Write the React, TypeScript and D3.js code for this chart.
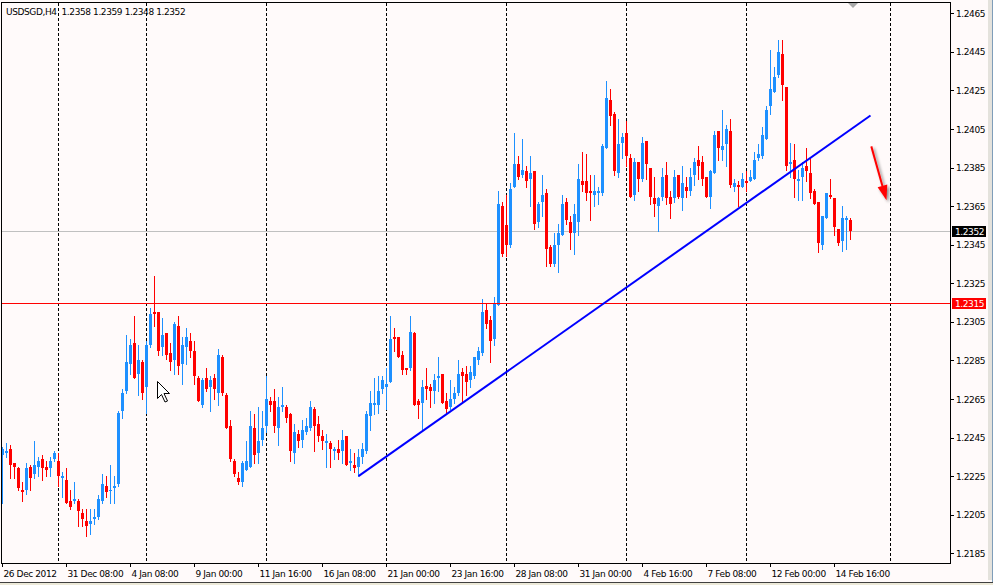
import * as d3 from "d3";

const symbol = "USDSGD";
const period = "H4";

// H4 bars as [open, high, low, close], one list per trading week
const dec26 = [
  [1.2236, 1.224, 1.2211, 1.2239], [1.2237, 1.2242, 1.2235, 1.2238], [1.2239, 1.2241, 1.2224, 1.2231],
  [1.2232, 1.2232, 1.2224, 1.223], [1.2229, 1.223, 1.2218, 1.2219], [1.2218, 1.2222, 1.2212, 1.2217],
  [1.2218, 1.2232, 1.2216, 1.2229], [1.223, 1.2231, 1.2218, 1.2224], [1.2226, 1.2243, 1.2224, 1.2231],
  [1.223, 1.2235, 1.2225, 1.2233], [1.2234, 1.2236, 1.2223, 1.2229], [1.223, 1.2233, 1.2225, 1.2228],
  [1.2229, 1.2235, 1.2225, 1.2233], [1.2234, 1.2238, 1.2233, 1.2237],
];
const dec31 = [
  [1.2233, 1.2237, 1.222, 1.2225], [1.2224, 1.2227, 1.2214, 1.2225], [1.2223, 1.2229, 1.2211, 1.2211],
  [1.2212, 1.2218, 1.2208, 1.2209], [1.2212, 1.2222, 1.2211, 1.2213], [1.2212, 1.2213, 1.2199, 1.2207],
  [1.2206, 1.2208, 1.2199, 1.2203], [1.2202, 1.2208, 1.2194, 1.2199], [1.22, 1.2208, 1.2195, 1.2202],
  [1.2203, 1.2208, 1.22, 1.2204], [1.2204, 1.2215, 1.2203, 1.2213], [1.2212, 1.2226, 1.2211, 1.2221],
  [1.222, 1.2225, 1.2214, 1.2217], [1.2218, 1.2231, 1.2211, 1.2218], [1.2219, 1.2225, 1.2211, 1.222],
  [1.2221, 1.2259, 1.222, 1.2258], [1.2259, 1.227, 1.2255, 1.2268], [1.2269, 1.2298, 1.2268, 1.2284],
  [1.2283, 1.2296, 1.2278, 1.2293], [1.2294, 1.2308, 1.2276, 1.2276], [1.2278, 1.2293, 1.2267, 1.2285],
  [1.2284, 1.2285, 1.2265, 1.2268],
];
const jan07 = [
  [1.2271, 1.2295, 1.2258, 1.2293], [1.2293, 1.2312, 1.2292, 1.2309], [1.231, 1.2329, 1.2303, 1.2309],
  [1.231, 1.231, 1.2288, 1.229], [1.2292, 1.2307, 1.2288, 1.2298], [1.2299, 1.2299, 1.2286, 1.2288],
  [1.2289, 1.2294, 1.228, 1.2284], [1.2285, 1.2305, 1.2278, 1.2304], [1.2303, 1.2308, 1.2278, 1.2282],
  [1.2283, 1.2297, 1.2273, 1.2293], [1.2292, 1.2302, 1.2283, 1.2297], [1.2295, 1.2299, 1.2287, 1.229],
  [1.229, 1.2295, 1.2273, 1.2277], [1.2276, 1.2277, 1.2264, 1.2264], [1.2262, 1.2276, 1.2261, 1.2275],
  [1.2276, 1.2281, 1.2269, 1.227], [1.2271, 1.2277, 1.2259, 1.2275], [1.2276, 1.2278, 1.2265, 1.227],
  [1.2268, 1.2291, 1.2262, 1.2288], [1.2287, 1.2288, 1.2267, 1.2268], [1.2267, 1.2268, 1.225, 1.225],
  [1.2251, 1.2254, 1.2233, 1.2234], [1.2233, 1.2234, 1.2225, 1.2226], [1.2224, 1.2227, 1.2221, 1.2222],
  [1.2222, 1.2233, 1.222, 1.2232], [1.2228, 1.2243, 1.2228, 1.2233], [1.223, 1.2259, 1.223, 1.2251],
  [1.225, 1.2257, 1.2232, 1.2236], [1.2237, 1.2261, 1.2232, 1.2243], [1.2244, 1.2259, 1.2241, 1.225],
];
const jan14 = [
  [1.2251, 1.2277, 1.2248, 1.2265], [1.2264, 1.2266, 1.2259, 1.2262], [1.2264, 1.227, 1.2248, 1.2251],
  [1.225, 1.2266, 1.2241, 1.2261], [1.2261, 1.2271, 1.2259, 1.2262], [1.2261, 1.2262, 1.2253, 1.2255],
  [1.2257, 1.2258, 1.2233, 1.2238], [1.2237, 1.2252, 1.2232, 1.2248], [1.2247, 1.2249, 1.224, 1.2243],
  [1.2244, 1.2254, 1.224, 1.2249], [1.2248, 1.2255, 1.2247, 1.2251], [1.225, 1.2264, 1.2249, 1.2261],
  [1.226, 1.2261, 1.2238, 1.2251], [1.2252, 1.2256, 1.2243, 1.2246], [1.2246, 1.2249, 1.2239, 1.2243],
  [1.2242, 1.2247, 1.223, 1.2243], [1.2242, 1.2243, 1.223, 1.2239], [1.2238, 1.224, 1.2234, 1.2239],
  [1.2239, 1.2244, 1.2234, 1.2237], [1.2238, 1.2249, 1.2232, 1.2244], [1.2246, 1.2246, 1.2231, 1.2231],
  [1.2232, 1.2239, 1.2228, 1.2233], [1.2231, 1.2237, 1.2227, 1.2229], [1.223, 1.2239, 1.2225, 1.2235],
  [1.2235, 1.2242, 1.2232, 1.2239], [1.2238, 1.2259, 1.2237, 1.2257], [1.2256, 1.2269, 1.2249, 1.2263],
  [1.2262, 1.2276, 1.2257, 1.2263], [1.2262, 1.2277, 1.2258, 1.2269], [1.227, 1.2277, 1.2268, 1.2275],
];
const jan21 = [
  [1.2271, 1.2281, 1.226, 1.2273], [1.2274, 1.2308, 1.2274, 1.2296], [1.2297, 1.2302, 1.229, 1.2296],
  [1.2297, 1.2297, 1.2287, 1.2287], [1.2288, 1.229, 1.2278, 1.228], [1.2281, 1.2281, 1.2278, 1.228],
  [1.2281, 1.2308, 1.228, 1.23], [1.2299, 1.23, 1.2262, 1.2262], [1.2264, 1.2265, 1.2255, 1.2262],
  [1.2263, 1.2275, 1.2249, 1.2271], [1.2272, 1.2281, 1.2265, 1.227], [1.2271, 1.2273, 1.2261, 1.2269],
  [1.2269, 1.2278, 1.2263, 1.2275], [1.2276, 1.2287, 1.2269, 1.2277], [1.2278, 1.2278, 1.2263, 1.2263],
  [1.2264, 1.2268, 1.2258, 1.226], [1.2261, 1.2275, 1.226, 1.2265], [1.2265, 1.2271, 1.2263, 1.2268],
  [1.2268, 1.2285, 1.2267, 1.2278], [1.2279, 1.2281, 1.2263, 1.2277], [1.2278, 1.2282, 1.2267, 1.2274],
  [1.2275, 1.2282, 1.2271, 1.2279], [1.2277, 1.2287, 1.2276, 1.2287], [1.2285, 1.2292, 1.2283, 1.229],
  [1.2289, 1.2317, 1.2288, 1.231], [1.2311, 1.2315, 1.2302, 1.2304], [1.2306, 1.2308, 1.2284, 1.2295],
  [1.2296, 1.2318, 1.2293, 1.2315], [1.2314, 1.2373, 1.2314, 1.2366], [1.2365, 1.2367, 1.2339, 1.234],
];
const jan28 = [
  [1.2355, 1.2371, 1.2339, 1.2345], [1.2345, 1.2377, 1.2344, 1.2374], [1.2375, 1.2403, 1.2375, 1.2387],
  [1.2387, 1.2391, 1.2379, 1.238], [1.2381, 1.24, 1.238, 1.2384], [1.2383, 1.2386, 1.2375, 1.2378],
  [1.2379, 1.2391, 1.2365, 1.2382], [1.2383, 1.2383, 1.2353, 1.2356], [1.2357, 1.2367, 1.2354, 1.2366],
  [1.2367, 1.2381, 1.236, 1.2371], [1.2372, 1.2374, 1.2334, 1.2343], [1.2344, 1.2345, 1.2334, 1.2335],
  [1.2335, 1.2351, 1.2334, 1.2345], [1.2345, 1.2356, 1.2331, 1.2351], [1.235, 1.2371, 1.235, 1.2366],
  [1.2367, 1.2369, 1.2356, 1.2358], [1.2357, 1.236, 1.2343, 1.2351], [1.2351, 1.2366, 1.234, 1.2361],
  [1.2357, 1.2387, 1.235, 1.2379], [1.2378, 1.2393, 1.2373, 1.2376], [1.2378, 1.2392, 1.2368, 1.2372],
  [1.2373, 1.2381, 1.2358, 1.2372], [1.2371, 1.2381, 1.2365, 1.2373], [1.2372, 1.2375, 1.2366, 1.2373],
  [1.2372, 1.2397, 1.2371, 1.2396], [1.2395, 1.243, 1.2395, 1.2421], [1.242, 1.2426, 1.2407, 1.2412],
  [1.2413, 1.2414, 1.2381, 1.2383], [1.2382, 1.241, 1.238, 1.2397], [1.2398, 1.2403, 1.239, 1.2401],
];
const feb04 = [
  [1.2403, 1.2409, 1.2386, 1.2391], [1.239, 1.2392, 1.237, 1.237], [1.2371, 1.239, 1.2368, 1.2388],
  [1.2388, 1.2388, 1.2373, 1.2379], [1.2379, 1.2401, 1.2378, 1.2398], [1.2399, 1.2399, 1.2379, 1.2387],
  [1.2385, 1.2385, 1.2366, 1.237], [1.2369, 1.238, 1.236, 1.2366], [1.2365, 1.237, 1.2352, 1.2369],
  [1.237, 1.2385, 1.2368, 1.238], [1.2381, 1.2388, 1.2366, 1.2369], [1.237, 1.2373, 1.2359, 1.2366],
  [1.2369, 1.2384, 1.2367, 1.238], [1.2381, 1.2381, 1.2369, 1.237], [1.2369, 1.2386, 1.2363, 1.2377],
  [1.2375, 1.238, 1.237, 1.2373], [1.2373, 1.2385, 1.2371, 1.238], [1.2381, 1.239, 1.2376, 1.2388],
  [1.2389, 1.2396, 1.2379, 1.2386], [1.2388, 1.2391, 1.2376, 1.2379], [1.238, 1.238, 1.237, 1.237],
  [1.237, 1.2384, 1.2364, 1.2383], [1.2382, 1.2404, 1.2382, 1.2402], [1.2404, 1.2404, 1.2389, 1.2395],
  [1.2394, 1.2415, 1.2389, 1.2396], [1.2397, 1.2407, 1.2386, 1.2405], [1.2404, 1.241, 1.2375, 1.2376],
  [1.2375, 1.2379, 1.2373, 1.2377], [1.2376, 1.2378, 1.2365, 1.2375], [1.2375, 1.2382, 1.2375, 1.2379],
];
const feb11 = [
  [1.2378, 1.2383, 1.2373, 1.2377], [1.2378, 1.2384, 1.2378, 1.238], [1.2379, 1.2393, 1.2379, 1.2389],
  [1.239, 1.2397, 1.2389, 1.2392], [1.2391, 1.2406, 1.239, 1.2402], [1.24, 1.2417, 1.24, 1.2415],
  [1.2417, 1.2446, 1.2413, 1.2426], [1.2424, 1.2437, 1.2424, 1.2432], [1.2433, 1.2451, 1.2432, 1.2445],
  [1.2444, 1.2451, 1.242, 1.2428], [1.2427, 1.2427, 1.2384, 1.2386], [1.2387, 1.2398, 1.238, 1.2388],
  [1.2389, 1.2397, 1.237, 1.2379], [1.2378, 1.2384, 1.2368, 1.2379], [1.238, 1.2388, 1.2368, 1.2385],
  [1.2386, 1.2395, 1.2378, 1.2383], [1.2382, 1.239, 1.2369, 1.2372], [1.2373, 1.2374, 1.2366, 1.2366],
  [1.2367, 1.2367, 1.2341, 1.2346], [1.2345, 1.236, 1.2343, 1.236], [1.2359, 1.2372, 1.2359, 1.2372],
  [1.2371, 1.2379, 1.2369, 1.237], [1.2369, 1.2369, 1.235, 1.2354], [1.2353, 1.2353, 1.2345, 1.2346],
  [1.2347, 1.2365, 1.2342, 1.2359], [1.2358, 1.236, 1.2343, 1.2359], [1.2358, 1.2359, 1.2348, 1.2352],
];

const bars = [...dec26, ...dec31, ...jan07, ...jan14, ...jan21, ...jan28, ...feb04, ...feb11];

const priceTicks = [1.2465, 1.2445, 1.2425, 1.2405, 1.2385, 1.2365, 1.2345, 1.2325, 1.2305, 1.2285, 1.2265, 1.2245, 1.2225, 1.2205, 1.2185];
const timeBars = [0, 16, 32, 48, 64, 80, 96, 112, 128, 144, 160, 176, 192, 208];
const timeLabels = ["26 Dec 2012", "31 Dec 08:00", "4 Jan 08:00", "9 Jan 00:00", "11 Jan 16:00", "16 Jan 08:00", "21 Jan 00:00", "23 Jan 16:00", "28 Jan 08:00", "31 Jan 00:00", "4 Feb 16:00", "7 Feb 08:00", "12 Feb 00:00", "14 Feb 16:00"];
const gridBars = [14, 36, 66, 96, 126, 156, 186, 222];

const supportLevel = 1.2315;
const trendLine = [[89, 1.2225], [217, 1.2412]];
const arrowLine = [[217.2, 1.2396], [221, 1.2368]];

const BULL = "#1e90ff";
const BEAR = "#ff0000";

export default function App() {
  const W = 993;
  const H = 585;
  const font = "'DejaVu Sans', Verdana, sans-serif";
  const txt = { fontFamily: font, fontSize: 9, letterSpacing: "-0.4px" };

  const x = d3.scaleLinear().domain([0, 222]).range([2.5, 890.5]);
  const y = d3.scaleLinear().domain([1.2185, 1.2465]).range([553.3, 13.3]);
  const py = (v: number) => Math.round(y(v));

  const last = bars[bars.length - 1];
  const lastClose = last[3];
  const header = `${symbol},${period}  ${last.map((v) => v.toFixed(4)).join(" ")}`;

  const trendPath = d3.line<number[]>().x((d) => x(d[0])).y((d) => y(d[1]))(trendLine) as string;

  // arrow geometry
  const [ax0, ay0] = [x(arrowLine[0][0]), y(arrowLine[0][1])];
  const [ax1, ay1] = [x(arrowLine[1][0]), y(arrowLine[1][1])];
  const len = Math.hypot(ax1 - ax0, ay1 - ay0);
  const ux = (ax1 - ax0) / len;
  const uy = (ay1 - ay0) / len;
  const hb = [ax1 - ux * 15, ay1 - uy * 15];
  const head = `M${ax1},${ay1}L${hb[0] + uy * 5},${hb[1] - ux * 5}L${hb[0] - uy * 5},${hb[1] + ux * 5}Z`;

  return (
    <svg width={W} height={H} style={{ position: "fixed", left: 0, top: 0, background: "#fffafa" }}>
      <defs>
        <clipPath id="plot">
          <rect x={2} y={3} width={948} height={560} />
        </clipPath>
        <filter id="shadow" x="-50%" y="-50%" width="200%" height="200%">
          <feDropShadow dx="2" dy="2" stdDeviation="1.8" floodColor="#000" floodOpacity="0.45" />
        </filter>
      </defs>
      <rect x={0} y={0} width={W} height={H} fill="#fffafa" />

      {/* grid */}
      {gridBars.map((b) => (
        <line key={b} x1={x(b)} x2={x(b)} y1={3} y2={563} stroke="#000" strokeDasharray="3,2" />
      ))}

      {/* current price line */}
      <line x1={2} x2={950} y1={py(lastClose) + 0.5} y2={py(lastClose) + 0.5} stroke="#c0c0c0" />

      {/* candles */}
      <g clipPath="url(#plot)">
        {bars.map((d, i) => {
          const [o, h, l, c] = d;
          const col = c >= o ? BULL : BEAR;
          const cx = x(i);
          const yo = py(o);
          const yc = py(c);
          const top = Math.min(yo, yc);
          const bh = Math.max(1, Math.abs(yo - yc));
          return (
            <g key={i} fill={col}>
              <rect x={cx - 0.5} y={py(h)} width={1} height={py(l) - py(h) + 1} />
              <rect x={cx - 1.5} y={top} width={3} height={bh} />
            </g>
          );
        })}
      </g>

      {/* support level */}
      <rect x={2} y={py(supportLevel)} width={948} height={1} fill="#ff0000" />

      {/* trend line */}
      <path d={trendPath} stroke="#0000ff" strokeWidth={2} fill="none" />

      {/* arrow */}
      <g filter="url(#shadow)">
        <line x1={ax0} y1={ay0} x2={hb[0]} y2={hb[1]} stroke="#ff0000" strokeWidth={2} />
        <path d={head} fill="#ff0000" />
      </g>

      {/* mouse pointer */}
      <path
        d="M157.5,381.5 v17 l4,-4 l3.5,7.5 l2.5,-1 l-3.5,-7.5 h5.5 z"
        fill="#fff"
        stroke="#000"
        strokeWidth={1}
      />

      {/* chart shift marker */}
      <path d="M848,3 L858,3 L853,8 Z" fill="#a8a8a8" />

      {/* frame */}
      <rect x={1.5} y={2.5} width={949} height={561} fill="none" stroke="#000" />

      {/* price axis */}
      {priceTicks.map((v) => (
        <g key={v}>
          <line x1={950.5} x2={954} y1={py(v) + 0.5} y2={py(v) + 0.5} stroke="#000" />
          <text x={956} y={y(v) + 3.5} style={txt} fill="#000">
            {v.toFixed(4)}
          </text>
        </g>
      ))}

      {/* price labels */}
      <rect x={952} y={py(lastClose) - 5} width={34} height={11} fill="#000" />
      <text x={955} y={py(lastClose) + 4} style={txt} fill="#fff">
        {lastClose.toFixed(4)}
      </text>
      <rect x={952} y={py(supportLevel) - 5} width={34} height={11} fill="#ff0000" />
      <text x={955} y={py(supportLevel) + 4} style={txt} fill="#fff">
        {supportLevel.toFixed(4)}
      </text>

      {/* time axis */}
      {timeBars.map((b, i) => (
        <g key={b}>
          <line x1={x(b)} x2={x(b)} y1={563.5} y2={567} stroke="#000" />
          <text x={x(b) + 1} y={576.5} style={txt} fill="#000">
            {timeLabels[i]}
          </text>
        </g>
      ))}

      {/* header */}
      <text x={6} y={14.5} style={{ ...txt, whiteSpace: "pre" }} fill="#000">
        {header}
      </text>

      {/* window edges */}
      <rect x={988} y={0} width={5} height={580} fill="#e4e2dc" />
      <line x1={992.5} x2={992.5} y1={0} y2={585} stroke="#7f9db9" />
      <rect x={0} y={582} width={W} height={3} fill="#ece9d8" />
      <line x1={0} x2={W} y1={582.5} y2={582.5} stroke="#404040" />
    </svg>
  );
}
